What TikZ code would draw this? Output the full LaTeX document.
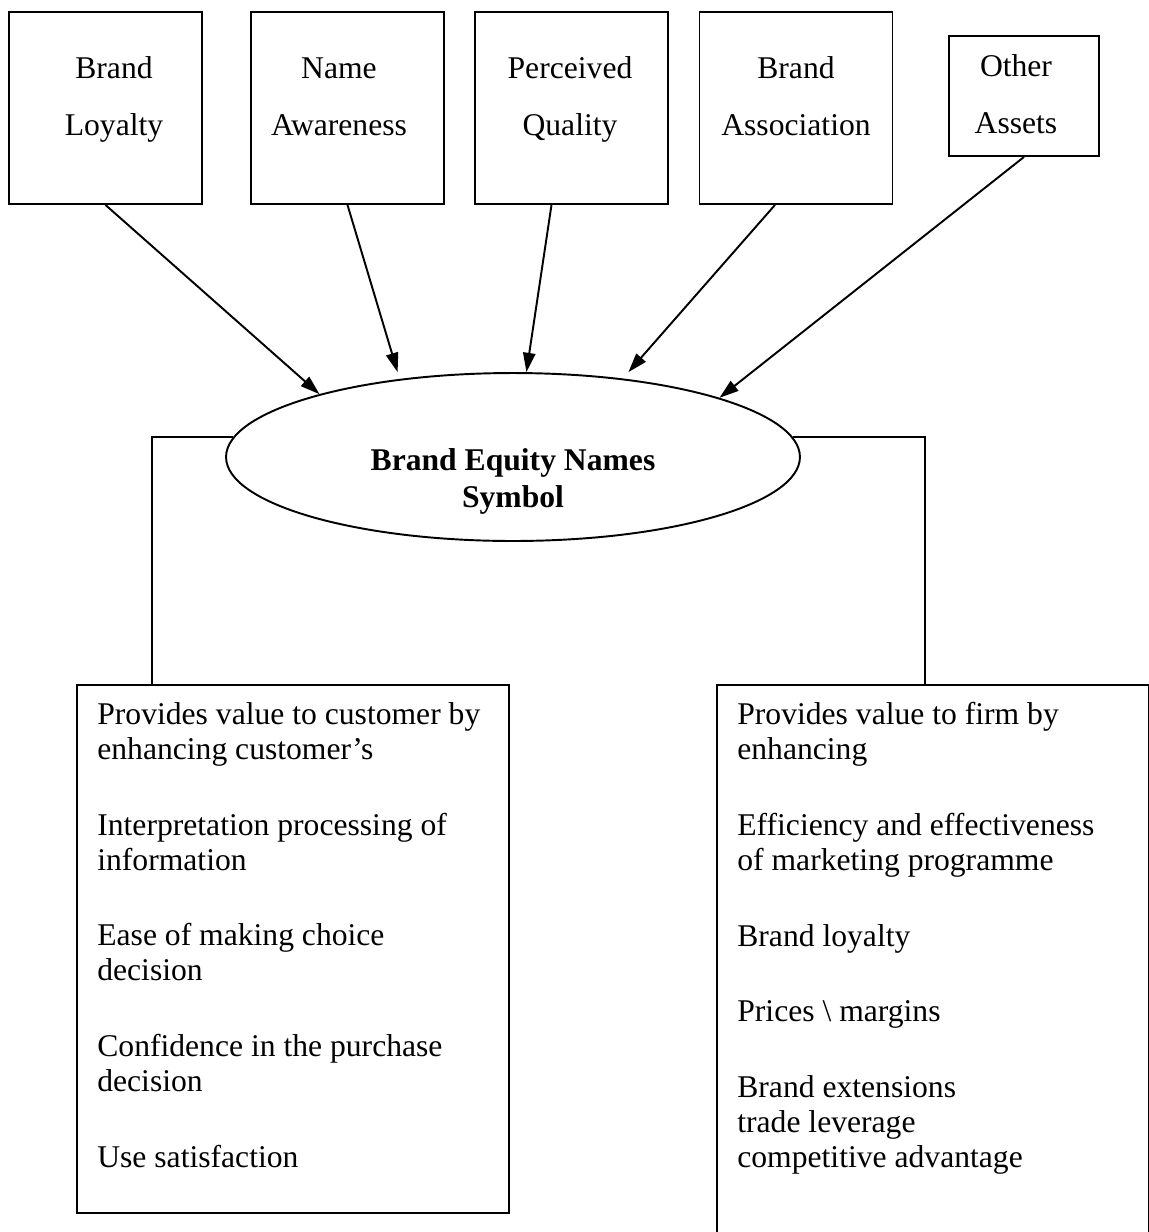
\documentclass[tikz,border=0pt]{standalone}
\usepackage{fontspec}
\setmainfont{Liberation Serif}
\usetikzlibrary{arrows.meta,shapes.geometric}

\begin{document}
\begin{tikzpicture}[x=0.02cm,y=-0.02cm,
		font=\fontsize{18}{20}\selectfont,
		topbox/.style={draw,line width=1.1pt,minimum width=3.86cm,minimum height=3.84cm},
		toptext/.style={anchor=base,align=center,inner sep=0pt,font=\fontsize{18}{32.3}\selectfont},
		infobox/.style={draw,line width=1.1pt,anchor=north west,minimum width=8.64cm},
		listtext/.style={anchor=north west,align=left,inner sep=0pt},
		arrow/.style={line width=1.1pt,-{Triangle[length=11pt,width=7pt]}},
		link/.style={line width=1.1pt}]
		\clip (0,0) rectangle (1149,1232);

		% Nodes
		\node[topbox] (loyalty) at (105.5,108) {};
		\node[topbox] (awareness) at (347.5,108) {};
		\node[topbox] (quality) at (571.5,108) {};
		\node[topbox] (association) at (796,108) {};
		\node[topbox,minimum width=3cm,minimum height=2.4cm] (assets) at (1024,96) {};

		% text of the top boxes (base = last line)
		\node[toptext] (loyaltytext) at (114,135) {Brand\\Loyalty};
		\node[toptext] (awarenesstext) at (339,135) {Name\\Awareness};
		\node[toptext] (qualitytext) at (570,135) {Perceived\\Quality};
		\node[toptext] (associationtext) at (796,135) {Brand\\Association};
		\node[toptext] (assetstext) at (1016,133) {Other\\Assets};

		\node[draw,ellipse,line width=1.1pt,minimum width=11.48cm,minimum height=3.36cm] (equity) at (513,457) {};
		\node[anchor=north,align=center,inner sep=0pt,font=\fontsize{18}{21}\selectfont\bfseries] (equitytext) at (513,448) {Brand Equity Names\\Symbol};

		\node[infobox,minimum height=10.56cm] (custbox) at (76,684) {};
		\node[infobox,minimum height=11.52cm] (firmbox) at (716,684) {};

		\node[listtext] (custtext) at (97,702) {Provides value to customer by\\enhancing customer’s\\[23pt]
			Interpretation processing of\\information\\[23pt]
			Ease of making choice\\decision\\[23pt]
			Confidence in the purchase\\decision\\[23pt]
			Use satisfaction};
		\node[listtext] (firmtext) at (737,702) {Provides value to firm by\\enhancing\\[23pt]
			Efficiency and effectiveness\\of marketing programme\\[23pt]
			Brand loyalty\\[23pt]
			Prices \textbackslash\ margins\\[23pt]
			Brand extensions\\trade leverage\\competitive advantage};

		% Edges
		\draw[arrow] (loyalty.south) -- (equity.162);
		\draw[arrow] (awareness.south) -- ([yshift=4pt]equity.146);
		\draw[arrow] ([shift={(-20,0)}]quality.south) -- (equity.81);
		\draw[arrow] ([shift={(-21,0)}]association.south) -- ([yshift=4pt]equity.34);
		\draw[arrow] (assets.south) -- (equity.16);

		\draw[link] (equity.176) -| ([shift={(76,0)}]custbox.north west);
		\draw[link] (equity.4) -| ([shift={(209,0)}]firmbox.north west);

	\end{tikzpicture}
\end{document}
